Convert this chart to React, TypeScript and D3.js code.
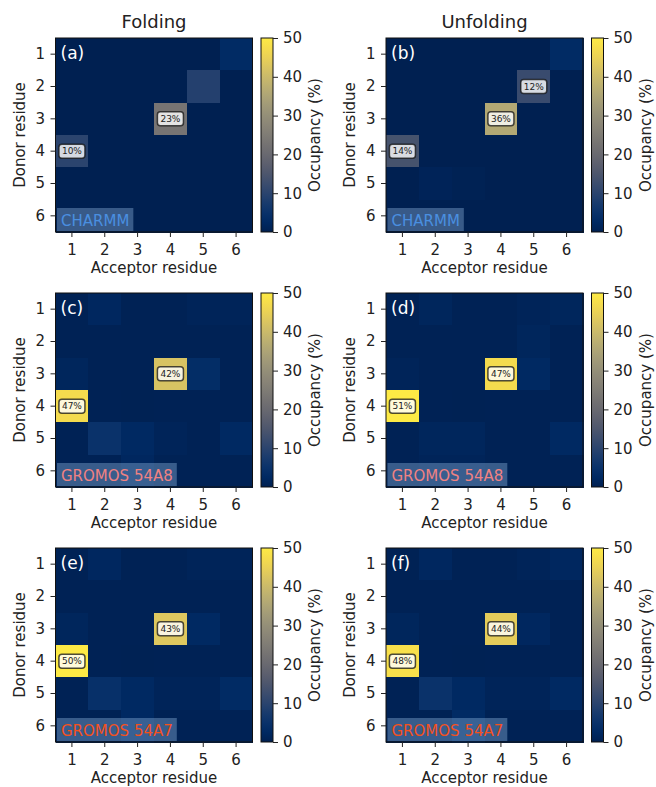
import React, { useEffect, useRef } from "react";
import * as d3 from "d3";

const residues = ["1", "2", "3", "4", "5", "6"];
const columnTitles = ["Folding", "Unfolding"];
const panelTags = ["(a)", "(b)", "(c)", "(d)", "(e)", "(f)"];
const forceFields = ["CHARMM", "GROMOS 54A8", "GROMOS 54A7"];
const forceFieldColors = ["#4a8fe0", "#f08282", "#f4511e"];
const occupancyTicks = [0, 10, 20, 30, 40, 50];

// occupancy (%) by [donor row][acceptor column]
const charmmFolding = [
  [0, 0, 0, 0, 0, 3],
  [0, 0, 0, 0, 9, 0],
  [0, 0, 0, 23, 0, 0],
  [10, 0, 0, 0, 0, 0],
  [0, 0, 0, 0, 0, 0],
  [0, 0, 0, 0, 0, 0],
];
const charmmUnfolding = [
  [0, 0, 0, 0, 0, 3],
  [0, 0, 0, 0, 12, 0],
  [0, 0, 0, 36, 0, 0],
  [14, 0, 0, 0, 0, 0],
  [0, 0.8, 0.3, 0, 0, 0],
  [0, 0, 0, 0, 0, 0],
];
const g54a8Folding = [
  [0.5, 2, 0.5, 0.5, 1, 1],
  [0.5, 0.5, 0.5, 0.5, 0.5, 0.5],
  [1.5, 0.5, 0.5, 42, 3.5, 0.5],
  [47, 0.5, 0.3, 0.5, 0.5, 0.5],
  [0.5, 5, 2.5, 1, 0.5, 2.5],
  [0.5, 0.5, 2, 0.5, 0.5, 0.5],
];
const g54a8Unfolding = [
  [0.5, 1.5, 0.5, 0.5, 1, 1.5],
  [0.5, 0.5, 0.5, 0.5, 1.5, 0.5],
  [1, 0.5, 0.5, 47, 2.5, 0.5],
  [51, 0.5, 0.3, 0.5, 0.5, 0.5],
  [0.5, 1.5, 1.5, 0.5, 0.5, 2.5],
  [0.5, 1, 1, 0.5, 0.5, 0.5],
];
const g54a7Folding = [
  [0.5, 2, 0.5, 0.5, 1, 1],
  [0.5, 0.5, 0.5, 0.5, 0.5, 0.5],
  [1.5, 0.5, 0.5, 43, 2.5, 0.5],
  [50, 0.5, 0.3, 0.5, 0.5, 0.5],
  [0.5, 4.5, 2.5, 1, 1, 3],
  [0.5, 0.5, 2.5, 0.5, 0.5, 0.5],
];
const g54a7Unfolding = [
  [0.5, 2, 0.5, 0.5, 1, 2],
  [0.5, 0.5, 0.5, 0.5, 0.5, 0.5],
  [1.5, 0.5, 0.5, 44, 2, 0.5],
  [48, 0.5, 0.3, 0.5, 0.5, 0.5],
  [0.5, 5, 2.5, 1, 1, 2.5],
  [0.5, 0.5, 3, 0.5, 0.5, 0.5],
];

const panels = [
  charmmFolding,
  charmmUnfolding,
  g54a8Folding,
  g54a8Unfolding,
  g54a7Folding,
  g54a7Unfolding,
];

const FONT = "DejaVu Sans, sans-serif";

const App = () => {
  const ref = useRef(null);

  useEffect(() => {
    const svg = d3.select(ref.current);
    svg.selectAll("*").remove();

    const colX = [55.5, 386];
    const rowY = [38, 293, 548];
    const mapW = 197;
    const mapH = 194;

    const color = d3
      .scaleSequential(d3.interpolateCividis)
      .domain([0, 50])
      .clamp(true);

    const grad = svg
      .append("defs")
      .append("linearGradient")
      .attr("id", "cbGrad")
      .attr("x1", 0)
      .attr("y1", 1)
      .attr("x2", 0)
      .attr("y2", 0);
    d3.range(0, 21).forEach((k) => {
      grad
        .append("stop")
        .attr("offset", k / 20)
        .attr("stop-color", d3.interpolateCividis(k / 20));
    });

    panels.forEach((matrix, i) => {
      const col = i % 2;
      const row = Math.floor(i / 2);
      const g = svg
        .append("g")
        .attr("transform", `translate(${colX[col]},${rowY[row]})`)
        .style("font-family", FONT);

      const x = d3.scaleBand().domain(residues).range([0, mapW]);
      const y = d3.scaleBand().domain(residues).range([0, mapH]);

      const cells = matrix.flatMap((vals, r) =>
        vals.map((v, c) => ({ donor: residues[r], acceptor: residues[c], v }))
      );

      g.selectAll("rect.cell")
        .data(cells)
        .enter()
        .append("rect")
        .attr("class", "cell")
        .attr("x", (d) => x(d.acceptor))
        .attr("y", (d) => y(d.donor))
        .attr("width", x.bandwidth() + 0.6)
        .attr("height", y.bandwidth() + 0.6)
        .attr("shape-rendering", "crispEdges")
        .attr("fill", (d) => color(d.v));

      // value labels
      cells
        .filter((d) => d.v >= 10)
        .forEach((d) => {
          const cx = x(d.acceptor) + x.bandwidth() / 2;
          const cy = y(d.donor) + y.bandwidth() / 2;
          const lab = g.append("g").attr("transform", `translate(${cx},${cy})`);
          const box = lab.append("rect");
          const t = lab
            .append("text")
            .attr("text-anchor", "middle")
            .attr("dy", "0.35em")
            .style("font-size", "9px")
            .attr("fill", "#222")
            .text(`${Math.round(d.v)}%`);
          const tw = t.node().getComputedTextLength();
          box
            .attr("x", -tw / 2 - 3)
            .attr("y", -7)
            .attr("width", tw + 6)
            .attr("height", 14)
            .attr("rx", 3)
            .attr("fill", "white")
            .attr("fill-opacity", 0.8)
            .attr("stroke", "#111")
            .attr("stroke-opacity", 0.75)
            .attr("stroke-width", 1.5);
        });

      // force field tag
      const ffBox = g.append("rect");
      const ff = g
        .append("text")
        .attr("x", 5.5)
        .attr("y", mapH - 6.5)
        .style("font-size", "15px")
        .attr("fill", forceFieldColors[row])
        .text(forceFields[row]);
      const fw = ff.node().getComputedTextLength();
      ffBox
        .attr("x", 1.5)
        .attr("y", mapH - 24)
        .attr("width", fw + 8)
        .attr("height", 23)
        .attr("fill", "#a0c8f0")
        .attr("fill-opacity", 0.35);
      ff.raise();

      g.append("text")
        .attr("x", 5)
        .attr("y", 21)
        .style("font-size", "17px")
        .attr("fill", "white")
        .text(panelTags[i]);

      g.append("rect")
        .attr("width", mapW)
        .attr("height", mapH)
        .attr("fill", "none")
        .attr("stroke", "#111")
        .attr("stroke-width", 1);

      const yAxis = g
        .append("g")
        .call(d3.axisLeft(y).tickSize(5).tickPadding(5.5));
      const xAxis = g
        .append("g")
        .attr("transform", `translate(0,${mapH})`)
        .call(d3.axisBottom(x).tickSize(5).tickPadding(7.4));
      [yAxis, xAxis].forEach((a) => {
        a.select(".domain").remove();
        a.selectAll("text")
          .style("font-size", "15px")
          .style("font-family", FONT)
          .attr("fill", "#222");
        a.selectAll("line").attr("stroke", "#222");
      });

      g.append("text")
        .attr("transform", `translate(-36,${mapH / 2}) rotate(-90)`)
        .attr("text-anchor", "middle")
        .attr("dy", "0.35em")
        .style("font-size", "15px")
        .attr("fill", "#222")
        .text("Donor residue");

      g.append("text")
        .attr("x", mapW / 2)
        .attr("y", mapH + 41)
        .attr("text-anchor", "middle")
        .style("font-size", "15px")
        .attr("fill", "#222")
        .text("Acceptor residue");

      if (row === 0) {
        g.append("text")
          .attr("x", mapW / 2)
          .attr("y", -9.7)
          .attr("text-anchor", "middle")
          .style("font-size", "18px")
          .attr("fill", "#222")
          .text(columnTitles[col]);
      }

      // colorbar
      const cbX = mapW + 8.5;
      const cb = g.append("g").attr("transform", `translate(${cbX},0)`);
      cb.append("rect")
        .attr("width", 12)
        .attr("height", mapH)
        .attr("fill", "url(#cbGrad)")
        .attr("stroke", "#111")
        .attr("stroke-width", 1);
      const cbScale = d3.scaleLinear().domain([0, 50]).range([mapH, 0]);
      const cbAxis = cb
        .append("g")
        .attr("transform", "translate(12,0)")
        .call(
          d3
            .axisRight(cbScale)
            .tickValues(occupancyTicks)
            .tickSize(5)
            .tickPadding(5)
        );
      cbAxis.select(".domain").remove();
      cbAxis
        .selectAll("text")
        .style("font-size", "15px")
        .style("font-family", FONT)
        .attr("fill", "#222");
      cbAxis.selectAll("line").attr("stroke", "#222");

      g.append("text")
        .attr("transform", `translate(${cbX + 54},${mapH / 2}) rotate(-90)`)
        .attr("text-anchor", "middle")
        .attr("dy", "0.35em")
        .style("font-size", "15px")
        .attr("fill", "#222")
        .text("Occupancy (%)");
    });
  }, []);

  return (
    <svg
      ref={ref}
      width={656}
      height={787}
      style={{ position: "absolute", left: 0, top: 0, background: "white" }}
    />
  );
};

export default App;
